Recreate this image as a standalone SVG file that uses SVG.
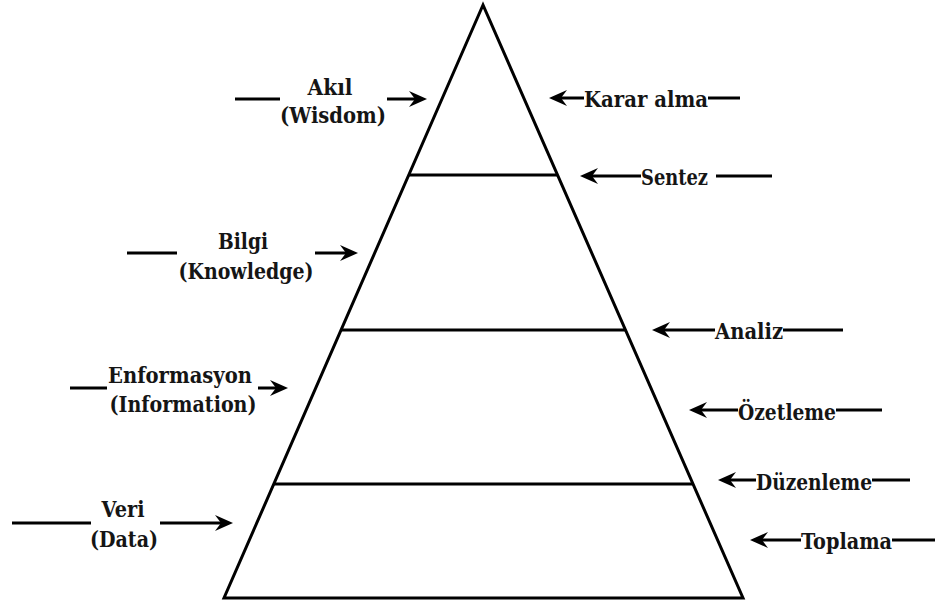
<svg xmlns="http://www.w3.org/2000/svg" width="935" height="604" viewBox="0 0 935 604">
<defs>
<style>
.ln{stroke:#000;stroke-width:3;fill:none}
.ar{stroke:#000;stroke-width:3;fill:none;marker-end:url(#ah)}
.c{text-anchor:middle}
</style>
<marker id="ah" markerUnits="userSpaceOnUse" markerWidth="20" markerHeight="18" viewBox="0 -9 20 18" refX="6" refY="0" orient="auto" overflow="visible">
<path d="M0,-8 L18,0 L0,8 L6,0 Z" fill="#000"/>
</marker>
</defs>
<rect width="935" height="604" fill="#fff"/>
<g id="pyramid">
<path class="ln" d="M483,5 L224,598 L743,598 Z" stroke-linejoin="miter"/>
<line class="ln" x1="409" y1="175" x2="557" y2="175"/>
<line class="ln" x1="341" y1="330" x2="625" y2="330"/>
<line class="ln" x1="274" y1="484" x2="692" y2="484"/>
</g>
<g id="connectors">
<line class="ln" x1="235" y1="99" x2="280" y2="99"/>
<line class="ar" x1="387" y1="99" x2="415" y2="99"/>
<line class="ln" x1="127" y1="253" x2="177" y2="253"/>
<line class="ar" x1="315" y1="253" x2="346" y2="253"/>
<line class="ln" x1="70" y1="388" x2="107" y2="388"/>
<line class="ar" x1="258" y1="388" x2="276" y2="388"/>
<line class="ln" x1="12" y1="523" x2="91" y2="523"/>
<line class="ar" x1="160" y1="523" x2="221" y2="523"/>
<line class="ar" x1="584" y1="98" x2="561" y2="98"/>
<line class="ln" x1="708" y1="98" x2="740" y2="98"/>
<line class="ar" x1="641" y1="176" x2="592" y2="176"/>
<line class="ln" x1="716" y1="176" x2="772" y2="176"/>
<line class="ar" x1="715" y1="330" x2="664" y2="330"/>
<line class="ln" x1="783" y1="330" x2="843" y2="330"/>
<line class="ar" x1="738" y1="410" x2="701" y2="410"/>
<line class="ln" x1="836" y1="410" x2="882" y2="410"/>
<line class="ar" x1="756" y1="480" x2="730" y2="480"/>
<line class="ln" x1="872" y1="480" x2="910" y2="480"/>
<line class="ar" x1="801" y1="540" x2="762" y2="540"/>
<line class="ln" x1="892" y1="540" x2="935" y2="540"/>
</g>
<g font-family="'DejaVu Serif', serif" font-weight="bold" font-size="23" fill="#151515">
<g id="wisdom">
<text class="c" x="330" y="95" textLength="45" lengthAdjust="spacingAndGlyphs">Akıl</text>
<text class="c" x="333" y="123" textLength="106" lengthAdjust="spacingAndGlyphs">(Wisdom)</text>
</g>
<g id="knowledge">
<text class="c" x="243" y="249" textLength="50" lengthAdjust="spacingAndGlyphs">Bilgi</text>
<text class="c" x="246" y="279" textLength="135" lengthAdjust="spacingAndGlyphs">(Knowledge)</text>
</g>
<g id="information">
<text class="c" x="180" y="383" textLength="144" lengthAdjust="spacingAndGlyphs">Enformasyon</text>
<text class="c" x="183" y="412" textLength="147" lengthAdjust="spacingAndGlyphs">(Information)</text>
</g>
<g id="data">
<text class="c" x="123" y="517" textLength="43" lengthAdjust="spacingAndGlyphs">Veri</text>
<text class="c" x="124" y="547" textLength="68" lengthAdjust="spacingAndGlyphs">(Data)</text>
</g>
<g id="karar-alma"><text x="584" y="107" textLength="124" lengthAdjust="spacingAndGlyphs">Karar alma</text></g>
<g id="sentez"><text x="641" y="185" textLength="67" lengthAdjust="spacingAndGlyphs">Sentez</text></g>
<g id="analiz"><text x="715" y="339" textLength="68" lengthAdjust="spacingAndGlyphs">Analiz</text></g>
<g id="ozetleme"><text x="738" y="420" textLength="98" lengthAdjust="spacingAndGlyphs">Özetleme</text></g>
<g id="duzenleme"><text x="756" y="490" textLength="116" lengthAdjust="spacingAndGlyphs">Düzenleme</text></g>
<g id="toplama"><text x="801" y="549" textLength="91" lengthAdjust="spacingAndGlyphs">Toplama</text></g>
</g>
</svg>
